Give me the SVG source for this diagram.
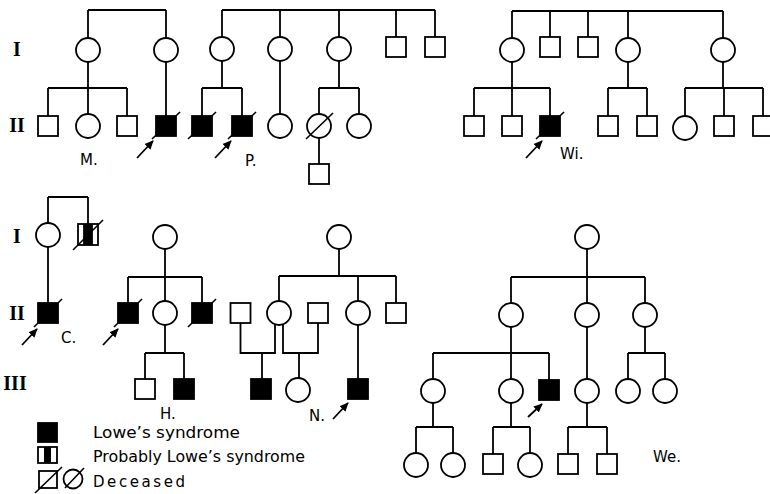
<svg xmlns="http://www.w3.org/2000/svg" width="770" height="494" viewBox="0 0 770 494">
<defs>
<style>
.ln{stroke:#000;stroke-width:1.8;fill:none}
.o{fill:#fff;stroke:#000;stroke-width:1.8}
.f{fill:#000;stroke:#000;stroke-width:1.8}
.sl{stroke:#000;stroke-width:1.6}
.ar{stroke:#000;stroke-width:1.8;marker-end:url(#ah)}
.lab{font-family:"DejaVu Sans",sans-serif;font-size:15px;fill:#000}
.rom{font-family:"Liberation Serif",serif;font-size:20px;font-weight:bold;fill:#000}
</style>
<marker id="ah" viewBox="0 0 10 10" refX="9" refY="5" markerWidth="9" markerHeight="9" orient="auto" markerUnits="userSpaceOnUse"><path d="M0,0.5 L10,5 L0,9.5 z" fill="#000"/></marker>
</defs>
<rect width="770" height="494" fill="#fff"/>

<g id="generation-labels">
<text class="rom" x="17" y="56" text-anchor="middle">I</text>
<text class="rom" x="17" y="132" text-anchor="middle">II</text>
<text class="rom" x="17" y="243" text-anchor="middle">I</text>
<text class="rom" x="17" y="320" text-anchor="middle">II</text>
<text class="rom" x="15" y="390" text-anchor="middle">III</text>
</g>

<g id="connectors">
<path class="ln" d="M88 10H166M88 10V38M166 10V38M88 62V114M48 88H127M48 88V116M127 88V116M166 62V116"/>
<path class="ln" d="M222 10H435M222 10V37M280 10V37M339 10V37M396 10V37M435 10V37M222 61V88M202 88H242M202 88V116M242 88V116M280 61V114M339 61V88M319 88H359M319 88V114M359 88V114M319 138V164"/>
<path class="ln" d="M512 11H723M512 11V38M550 11V37M588 11V37M628 11V38M723 11V38M512 62V88M474 88H550M474 88V116M512 88V116M550 88V116M628 62V88M608 88H647M608 88V116M647 88V116M723 62V88M685 88H763M685 88V116M724 88V116M763 88V116"/>
<path class="ln" d="M48 197H88M48 197V223M88 197V224M48 247V303"/>
<path class="ln" d="M165 249V277M128 277H202M128 277V303M165 277V301M202 277V303M165 325V353M145 353H184M145 353V379M184 353V379"/>
<path class="ln" d="M339 249V276M279 276H396M279 276V301M358 276V301M396 276V303M240.5 323V353H275V324M262 353V379M283 324V353H318V323M299 353V378M358 325V379"/>
<path class="ln" d="M587 249V277M511 277H645M511 277V303M587 277V303M645 277V303M511 327V353M433 353H549M433 353V379M511 353V379M549 353V380M587 327V379M645 327V353M628 353H665M628 353V379M665 353V379M433 403V427M416 427H453M416 427V453M453 427V453M511 403V427M493 427H530M493 427V454M530 427V453M587 403V427M568 427H607M568 427V454M607 427V454"/>
<line class="ar" x1="137" y1="158" x2="153" y2="141"/>
<line class="ar" x1="215" y1="158" x2="231" y2="141"/>
<line class="ar" x1="526" y1="158" x2="542" y2="141"/>
<line class="ar" x1="22" y1="345" x2="37" y2="329"/>
<line class="ar" x1="103" y1="345" x2="118" y2="329"/>
<line class="ar" x1="333" y1="419" x2="348" y2="403"/>
<line class="ar" x1="528" y1="417" x2="542" y2="404"/>
</g>

<g id="M-I-1"><circle class="o" cx="88" cy="50" r="12"/></g>
<g id="M-I-2"><circle class="o" cx="166" cy="50" r="12"/></g>
<g id="M-II-1"><rect class="o" x="38" y="116" width="20" height="20"/></g>
<g id="M-II-2"><circle class="o" cx="88" cy="126" r="12"/></g>
<g id="M-II-3"><rect class="o" x="117" y="116" width="20" height="20"/></g>
<g id="M-II-4"><rect class="f" x="156" y="116" width="20" height="20"/><line class="sl" x1="152" y1="139" x2="180" y2="112"/></g>
<text class="lab" x="80" y="165">M.</text>

<g id="P-I-1"><circle class="o" cx="222" cy="49" r="12"/></g>
<g id="P-I-2"><circle class="o" cx="280" cy="49" r="12"/></g>
<g id="P-I-3"><circle class="o" cx="339" cy="49" r="12"/></g>
<g id="P-I-4"><rect class="o" x="386" y="37" width="20" height="20"/></g>
<g id="P-I-5"><rect class="o" x="425" y="37" width="20" height="20"/></g>
<g id="P-II-1"><rect class="f" x="192" y="116" width="20" height="20"/><line class="sl" x1="188" y1="139" x2="216" y2="112"/></g>
<g id="P-II-2"><rect class="f" x="232" y="116" width="20" height="20"/><line class="sl" x1="228" y1="139" x2="256" y2="112"/></g>
<g id="P-II-3"><circle class="o" cx="280" cy="126" r="12"/></g>
<g id="P-II-4"><circle class="o" cx="319" cy="126" r="12"/><line class="sl" x1="306" y1="139" x2="333" y2="113"/></g>
<g id="P-II-5"><circle class="o" cx="359" cy="126" r="12"/></g>
<g id="P-III-1"><rect class="o" x="309" y="164" width="20" height="20"/></g>
<text class="lab" x="245" y="166">P.</text>

<g id="Wi-I-1"><circle class="o" cx="512" cy="50" r="12"/></g>
<g id="Wi-I-2"><rect class="o" x="540" y="37" width="20" height="20"/></g>
<g id="Wi-I-3"><rect class="o" x="578" y="37" width="20" height="20"/></g>
<g id="Wi-I-4"><circle class="o" cx="628" cy="50" r="12"/></g>
<g id="Wi-I-5"><circle class="o" cx="723" cy="50" r="12"/></g>
<g id="Wi-II-1"><rect class="o" x="464" y="116" width="20" height="20"/></g>
<g id="Wi-II-2"><rect class="o" x="502" y="116" width="20" height="20"/></g>
<g id="Wi-II-3"><rect class="f" x="540" y="116" width="20" height="20"/><line class="sl" x1="536" y1="139" x2="564" y2="112"/></g>
<g id="Wi-II-4"><rect class="o" x="598" y="116" width="20" height="20"/></g>
<g id="Wi-II-5"><rect class="o" x="637" y="116" width="20" height="20"/></g>
<g id="Wi-II-6"><circle class="o" cx="685" cy="128" r="12"/></g>
<g id="Wi-II-7"><rect class="o" x="714" y="116" width="20" height="20"/></g>
<g id="Wi-II-8"><rect class="o" x="753" y="116" width="20" height="20"/></g>
<text class="lab" x="560" y="159">Wi.</text>

<g id="C-I-1"><circle class="o" cx="48" cy="235" r="12"/></g>
<g id="C-I-2"><rect class="o" x="78" y="224" width="20" height="21"/><rect x="84" y="224" width="8" height="21" fill="#000"/><line class="ln" x1="84" y1="224" x2="84" y2="245"/><line class="ln" x1="92" y1="224" x2="92" y2="245"/><line class="sl" x1="73" y1="250" x2="103" y2="220"/></g>
<g id="C-II-1"><rect class="f" x="38" y="303" width="20" height="20"/><line class="sl" x1="34" y1="327" x2="62" y2="299"/></g>
<text class="lab" x="61" y="343">C.</text>

<g id="H-I-1"><circle class="o" cx="165" cy="237" r="12"/></g>
<g id="H-II-1"><rect class="f" x="118" y="303" width="20" height="20"/><line class="sl" x1="114" y1="327" x2="142" y2="299"/></g>
<g id="H-II-2"><circle class="o" cx="165" cy="313" r="12"/></g>
<g id="H-II-3"><rect class="f" x="192" y="303" width="20" height="20"/><line class="sl" x1="188" y1="327" x2="216" y2="299"/></g>
<g id="H-III-1"><rect class="o" x="135" y="379" width="20" height="20"/></g>
<g id="H-III-2"><rect class="f" x="174" y="379" width="20" height="20"/></g>
<text class="lab" x="160" y="419">H.</text>

<g id="N-I-1"><circle class="o" cx="339" cy="237" r="12"/></g>
<g id="N-II-1"><rect class="o" x="230.5" y="303" width="20" height="20"/></g>
<g id="N-II-2"><circle class="o" cx="279" cy="313" r="12"/></g>
<g id="N-II-3"><rect class="o" x="308" y="303" width="20" height="20"/></g>
<g id="N-II-4"><circle class="o" cx="358" cy="313" r="12"/></g>
<g id="N-II-5"><rect class="o" x="386" y="303" width="20" height="20"/></g>
<g id="N-III-1"><rect class="f" x="251" y="379" width="20" height="20"/></g>
<g id="N-III-2"><circle class="o" cx="298" cy="390" r="12"/></g>
<g id="N-III-3"><rect class="f" x="348" y="379" width="20" height="20"/></g>
<text class="lab" x="309" y="421">N.</text>

<g id="We-I-1"><circle class="o" cx="587" cy="237" r="12"/></g>
<g id="We-II-1"><circle class="o" cx="511" cy="315" r="12"/></g>
<g id="We-II-2"><circle class="o" cx="587" cy="315" r="12"/></g>
<g id="We-II-3"><circle class="o" cx="645" cy="315" r="12"/></g>
<g id="We-III-1"><circle class="o" cx="433" cy="391" r="12"/></g>
<g id="We-III-2"><circle class="o" cx="511" cy="391" r="12"/></g>
<g id="We-III-3"><rect class="f" x="539" y="380" width="20" height="20"/></g>
<g id="We-III-4"><circle class="o" cx="587" cy="391" r="12"/></g>
<g id="We-III-5"><circle class="o" cx="628" cy="391" r="12"/></g>
<g id="We-III-6"><circle class="o" cx="665" cy="391" r="12"/></g>
<g id="We-IV-1"><circle class="o" cx="416" cy="465" r="12"/></g>
<g id="We-IV-2"><circle class="o" cx="453" cy="465" r="12"/></g>
<g id="We-IV-3"><rect class="o" x="483" y="454" width="20" height="20"/></g>
<g id="We-IV-4"><circle class="o" cx="530" cy="465" r="12"/></g>
<g id="We-IV-5"><rect class="o" x="558" y="454" width="20" height="20"/></g>
<g id="We-IV-6"><rect class="o" x="597" y="454" width="20" height="20"/></g>
<text class="lab" x="653" y="462">We.</text>

<g id="legend">
<rect class="f" x="38" y="423" width="19" height="19"/>
<text class="lab" x="93" y="438" textLength="147" lengthAdjust="spacingAndGlyphs">Lowe’s syndrome</text>
<rect class="o" x="38" y="447" width="19" height="16"/>
<rect x="44" y="447" width="7" height="16" fill="#000"/>
<text class="lab" x="93" y="462" textLength="212" lengthAdjust="spacingAndGlyphs">Probably Lowe’s syndrome</text>
<rect class="o" x="39" y="471" width="18" height="17"/>
<line class="sl" x1="35" y1="493" x2="62" y2="467"/>
<circle class="o" cx="73" cy="479" r="9.5"/>
<line class="sl" x1="65" y1="488" x2="84" y2="468"/>
<text class="lab" x="93" y="487" textLength="92" lengthAdjust="spacing">Deceased</text>
</g>
</svg>
